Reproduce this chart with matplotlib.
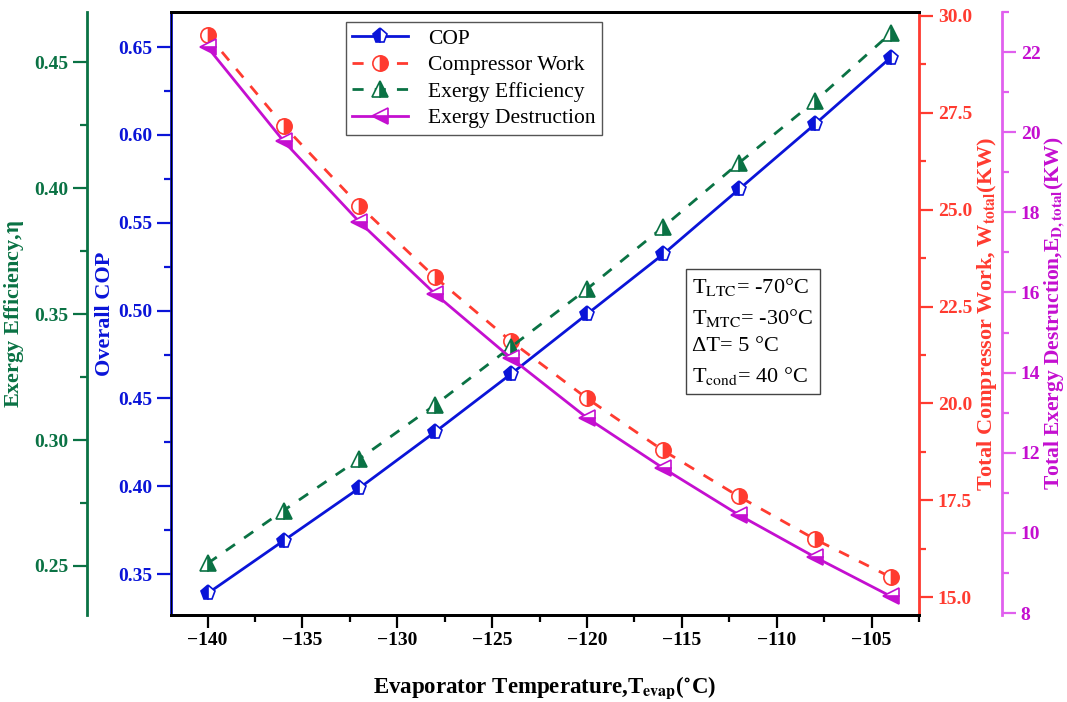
import matplotlib
matplotlib.use("Agg")
import matplotlib.pyplot as plt
from matplotlib.ticker import MultipleLocator, AutoMinorLocator

plt.rcParams['font.family'] = ['Liberation Serif', 'DejaVu Serif']
plt.rcParams['mathtext.fontset'] = 'stix'

# data
t_evap = [-140, -136, -132, -128, -124, -120, -116, -112, -108, -104]
cop = [0.339, 0.369, 0.399, 0.431, 0.464, 0.498, 0.532, 0.569, 0.606, 0.644]
work = [29.51, 27.17, 25.10, 23.25, 21.60, 20.13, 18.79, 17.60, 16.50, 15.52]
ex_eff = [0.251, 0.272, 0.2925, 0.314, 0.337, 0.360, 0.3845, 0.410, 0.4345, 0.4615]
ex_dest = [22.12, 19.78, 17.76, 15.96, 14.36, 12.87, 11.62, 10.45, 9.40, 8.42]

c_blue = '#0a14d8'
c_red = '#ff3b30'
c_green = '#0a7244'
c_mag = '#c40fd0'
c_mag_ax = '#e060ee'

fig = plt.figure(figsize=(10.67, 7.02), dpi=100)
ax = fig.add_axes([0.1603, 0.1239, 0.7010, 0.8590])
ax_w = ax.twinx()
ax_e = ax.twinx()
ax_d = ax.twinx()

tick_kw = dict(direction='out', width=1.6)

l1, = ax.plot(t_evap, cop, '-', color=c_blue, lw=2, marker='p', ms=11,
              fillstyle='left', mfc=c_blue, mfcalt='white', mec=c_blue, mew=1.2)
l2, = ax_w.plot(t_evap, work, '--', color=c_red, lw=2, marker='o', ms=11,
                fillstyle='right', mfc=c_red, mfcalt='white', mec=c_red, mew=1.2,
                dashes=(4, 4))
l3, = ax_e.plot(t_evap, ex_eff, '--', color=c_green, lw=2, marker='^', ms=12,
                fillstyle='right', mfc=c_green, mfcalt='white', mec=c_green, mew=1.2,
                dashes=(4, 4))
l4, = ax_d.plot(t_evap, ex_dest, '-', color=c_mag, lw=2, marker='<', ms=12,
                fillstyle='bottom', mfc=c_mag, mfcalt='white', mec=c_mag, mew=1.2)

# x axis
ax.set_xlim(-141.93, -102.5)
ax.xaxis.set_major_locator(MultipleLocator(5))
ax.xaxis.set_minor_locator(MultipleLocator(2.5))
ax.tick_params(axis='x', which='major', length=9, labelsize=14, **tick_kw)
ax.tick_params(axis='x', which='minor', length=5, **tick_kw)
for lab in ax.get_xticklabels():
    lab.set_fontweight('bold')
ax.set_xlabel(r'Evaporator Temperature,T$_{\mathbf{evap}}$($\mathbf{^{\circ}}$C)',
              fontsize=16.5, fontweight='bold', labelpad=18)

def style_y(a, color, lim, step, label, size=16):
    a.set_ylim(*lim)
    a.yaxis.set_major_locator(MultipleLocator(step))
    a.yaxis.set_minor_locator(AutoMinorLocator(2))
    a.tick_params(axis='y', which='major', length=10, colors=color,
                  labelsize=14, **tick_kw)
    a.tick_params(axis='y', which='minor', length=5, colors=color, **tick_kw)
    for lab in a.get_yticklabels():
        lab.set_fontweight('bold')
    a.set_ylabel(label, color=color, fontsize=size, fontweight='bold')

style_y(ax, c_blue, (0.3267, 0.67), 0.05, 'Overall COP')
ax.yaxis.set_major_formatter(plt.FormatStrFormatter('%.2f'))
ax.spines['left'].set_color(c_blue)
ax.spines['left'].set_linewidth(2)
ax.yaxis.labelpad = 2

style_y(ax_w, c_red, (14.54, 30.1), 2.5,
        r'Total Compressor Work, W$_{\mathbf{total}}$(KW)')
ax_w.yaxis.set_major_formatter(plt.FormatStrFormatter('%.1f'))
ax_w.spines['right'].set_color(c_red)
ax_w.spines['right'].set_linewidth(2)
ax_w.yaxis.labelpad = 2

# green axis on far left
ax_e.yaxis.set_ticks_position('left')
ax_e.yaxis.set_label_position('left')
ax_e.spines['left'].set_position(('axes', -0.1123))
ax_e.spines['left'].set_visible(True)
ax_e.spines['right'].set_visible(False)
ax_e.spines['left'].set_color(c_green)
ax_e.spines['left'].set_linewidth(2)
style_y(ax_e, c_green, (0.2305, 0.47), 0.05, r'Exergy Efficiency,$\mathbf{\eta}$')
ax_e.yaxis.set_major_formatter(plt.FormatStrFormatter('%.2f'))
ax_e.yaxis.labelpad = 6

ax_d.spines['right'].set_position(('axes', 1.111))
ax_d.spines['right'].set_color(c_mag_ax)
ax_d.spines['right'].set_linewidth(2)
style_y(ax_d, c_mag, (7.95, 23.0), 2,
        r'Total Exergy Destruction,E$_{\mathbf{D,total}}$(KW)', size=15.5)
ax_d.tick_params(axis='y', which='both', color=c_mag_ax)
ax_d.yaxis.labelpad = 1

for a in (ax, ax_w, ax_e, ax_d):
    a.spines['top'].set_linewidth(2)
    a.spines['bottom'].set_linewidth(2)

leg = ax_d.legend([l1, l2, l3, l4],
                  ['COP', 'Compressor Work', 'Exergy Efficiency', 'Exergy Destruction'],
                  loc='upper left', bbox_to_anchor=(0.228, 0.99), fontsize=15.5,
                  fancybox=False, edgecolor='#555555', framealpha=1,
                  handlelength=2.6, borderpad=0.3, labelspacing=0.3,
                  handletextpad=0.9, borderaxespad=0.2)
leg.get_frame().set_linewidth(1)

ax_d.text(0.697, 0.563,
          'T$_{\\rm LTC}$= -70°C\nT$_{\\rm MTC}$= -30°C\nΔT= 5 °C\nT$_{\\rm cond}$= 40 °C',
          transform=ax.transAxes, fontsize=16, va='top', ha='left', linespacing=1.55,
          bbox=dict(boxstyle='square,pad=0.3', fc='white', ec='#444444', lw=1))

fig.savefig('out.png', dpi=100)
